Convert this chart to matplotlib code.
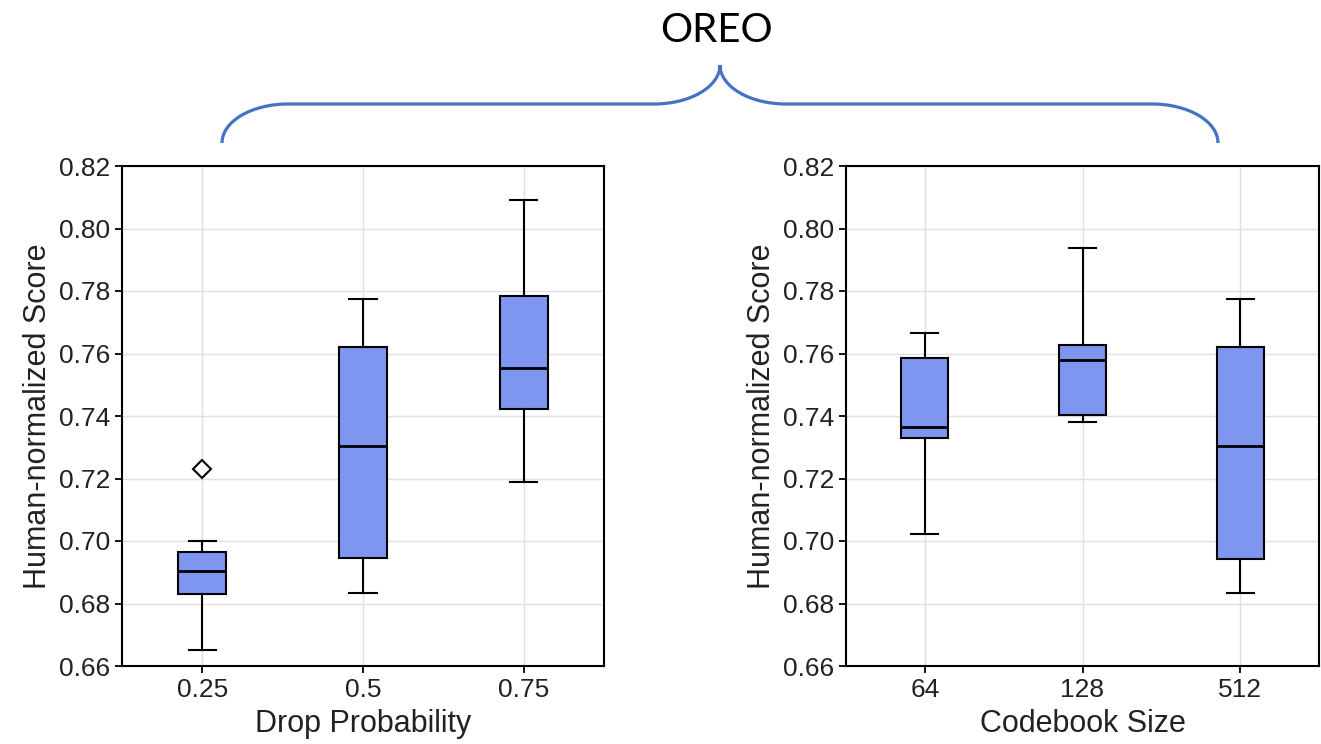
import matplotlib
matplotlib.use("Agg")
import matplotlib.pyplot as plt
from matplotlib.path import Path
from matplotlib.patches import PathPatch
import numpy as np

# box statistics
drop_labels = ["0.25", "0.5", "0.75"]
drop_q1 = [0.6831, 0.6947, 0.7424]
drop_med = [0.6903, 0.7303, 0.7553]
drop_q3 = [0.6966, 0.7621, 0.7784]
drop_lo = [0.665, 0.6834, 0.719]
drop_hi = [0.700, 0.7774, 0.8092]
drop_fliers = [[0.7231], [], []]

code_labels = ["64", "128", "512"]
code_q1 = [0.7330, 0.7402, 0.6944]
code_med = [0.7364, 0.7579, 0.7303]
code_q3 = [0.7587, 0.7628, 0.7621]
code_lo = [0.7022, 0.7382, 0.6834]
code_hi = [0.7665, 0.7937, 0.7774]
code_fliers = [[], [], []]

yticks = np.arange(0.66, 0.8201, 0.02)

plt.rcParams['font.family'] = ['Liberation Sans', 'DejaVu Sans']

W, H = 1321, 744
fig = plt.figure(figsize=(W / 100, H / 100), dpi=100)


def make_stats(q1, med, q3, lo, hi, fl):
    out = []
    for i in range(len(med)):
        out.append(dict(q1=q1[i], med=med[i], q3=q3[i], whislo=lo[i],
                        whishi=hi[i], fliers=fl[i]))
    return out


def draw_panel(rect, stats, labels, xlabel):
    ax = fig.add_axes(rect)
    ax.bxp(stats, positions=range(1, len(stats) + 1), widths=0.3,
           capwidths=0.17, patch_artist=True, showfliers=True,
           boxprops=dict(facecolor="#7f96f0", edgecolor="black", linewidth=1.5),
           medianprops=dict(color="black", linewidth=2),
           whiskerprops=dict(color="black", linewidth=1.5),
           capprops=dict(color="black", linewidth=1.5),
           flierprops=dict(marker="D", markerfacecolor="white",
                           markeredgecolor="black", markersize=9,
                           markeredgewidth=1.5))
    ax.set_xlim(0.5, len(stats) + 0.5)
    ax.set_ylim(0.66, 0.82)
    ax.set_yticks(yticks)
    ax.set_yticklabels(["%.2f" % v for v in yticks])
    ax.set_xticks(range(1, len(stats) + 1))
    ax.set_xticklabels(labels)
    ax.grid(True, color="#e0e0e0", linewidth=1)
    ax.set_axisbelow(True)
    for s in ax.spines.values():
        s.set_color("black")
        s.set_linewidth(1.5)
    ax.tick_params(labelsize=19, length=5, width=1.3, color="black",
                   labelcolor="#222222")
    ax.set_ylabel("Human-normalized Score", fontsize=22, color="#222222")
    ax.set_xlabel(xlabel, fontsize=22, color="#222222", labelpad=5)
    return ax


draw_panel([122 / W, 78 / H, 482 / W, 500 / H],
           make_stats(drop_q1, drop_med, drop_q3, drop_lo, drop_hi, drop_fliers),
           drop_labels, "Drop Probability")
draw_panel([846 / W, 78 / H, 473 / W, 500 / H],
           make_stats(code_q1, code_med, code_q3, code_lo, code_hi, code_fliers),
           code_labels, "Codebook Size")

# curly brace above both panels (pixel coords, y downwards)
k = 0.5523
x0, x1, xm = 222, 1218, 720
yb, yh, yp = 143, 104, 65
a, b = 66, 39
pts = [
    (x0, yb), (x0, yb - k * b), (x0 + a - k * a, yh), (x0 + a, yh),
    (xm - a, yh),
    (xm - a + k * a, yh), (xm, yp + k * b), (xm, yp),
    (xm, yp + k * b), (xm + a - k * a, yh), (xm + a, yh),
    (x1 - a, yh),
    (x1 - a + k * a, yh), (x1, yb - k * b), (x1, yb),
]
codes = [Path.MOVETO, Path.CURVE4, Path.CURVE4, Path.CURVE4,
         Path.LINETO,
         Path.CURVE4, Path.CURVE4, Path.CURVE4,
         Path.CURVE4, Path.CURVE4, Path.CURVE4,
         Path.LINETO,
         Path.CURVE4, Path.CURVE4, Path.CURVE4]
verts = [(x / W, 1 - y / H) for x, y in pts]
fig.patches.append(PathPatch(Path(verts, codes), transform=fig.transFigure,
                             fill=False, edgecolor="#4472c4", linewidth=2.3))

fig.text(716 / W, 1 - 30 / H, "OREO", fontsize=29, family=["Lato", "DejaVu Sans"],
         ha="center", va="center", color="black")

fig.savefig("out.png", dpi=100)
